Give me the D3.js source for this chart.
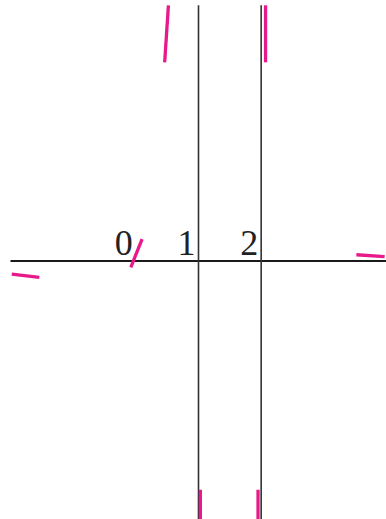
<!DOCTYPE html>
<html>
<meta charset="UTF-8">
<style>
body, html { margin: 0; padding: 0; background: #fff; }
svg { display: block; }
</style>
<body>
<div id="chart"></div>
<script src="https://cdn.jsdelivr.net/npm/d3@7"></script>
<script>

// tick labels on the x axis
const tickValues = [0, 1, 2];

// vertical asymptotes x = 1 and x = 2
const asymptotes = [1, 2];

// short pieces of the graph, in data units: [x1, y1, x2, y2]
const pieces = [
  [-1.98, -0.21, -1.54, -0.26],
  [0.10, 0.35, -0.08, -0.10],
  [0.52, 4.08, 0.46, 3.17],
  [1.03, -3.65, 1.03, -4.15],
  [1.95, -3.65, 1.95, -4.15],
  [2.07, 4.08, 2.07, 3.17],
  [3.52, 0.10, 3.97, 0.07]
];

const width = 386, height = 519;

const svg = d3.select("#chart")
  .append("svg")
    .attr("width", width)
    .attr("height", height);

// same unit length on both axes
const x = d3.scaleLinear().domain([-2, 4]).range([10.5, 386.5]);
const unit = x(1) - x(0);
const y = d3.scaleLinear().domain([0, 1]).range([261, 261 - unit]);

// x axis line
svg.append("line")
  .attr("x1", x(-2)).attr("x2", width)
  .attr("y1", y(0)).attr("y2", y(0))
  .attr("stroke", "#1a1a1a")
  .attr("stroke-width", 2);

// asymptotes
svg.selectAll(".asym")
  .data(asymptotes)
  .enter().append("line")
    .attr("x1", d => x(d)).attr("x2", d => x(d))
    .attr("y1", y(4.08)).attr("y2", height)
    .attr("stroke", "#333")
    .attr("stroke-width", 1.6);

// labels
svg.selectAll(".tick")
  .data(tickValues)
  .enter().append("text")
    .attr("x", d => x(d) - 3)
    .attr("y", y(0) - 6.5)
    .attr("text-anchor", "end")
    .attr("font-family", "Liberation Serif, serif")
    .attr("font-size", "36px")
    .attr("fill", "#222")
    .text(d => d);

// pink pieces
svg.selectAll(".piece")
  .data(pieces)
  .enter().append("line")
    .attr("x1", d => x(d[0])).attr("y1", d => y(d[1]))
    .attr("x2", d => x(d[2])).attr("y2", d => y(d[3]))
    .attr("stroke", "#e8198b")
    .attr("stroke-width", 3.3);

</script>
</body>
</html>
